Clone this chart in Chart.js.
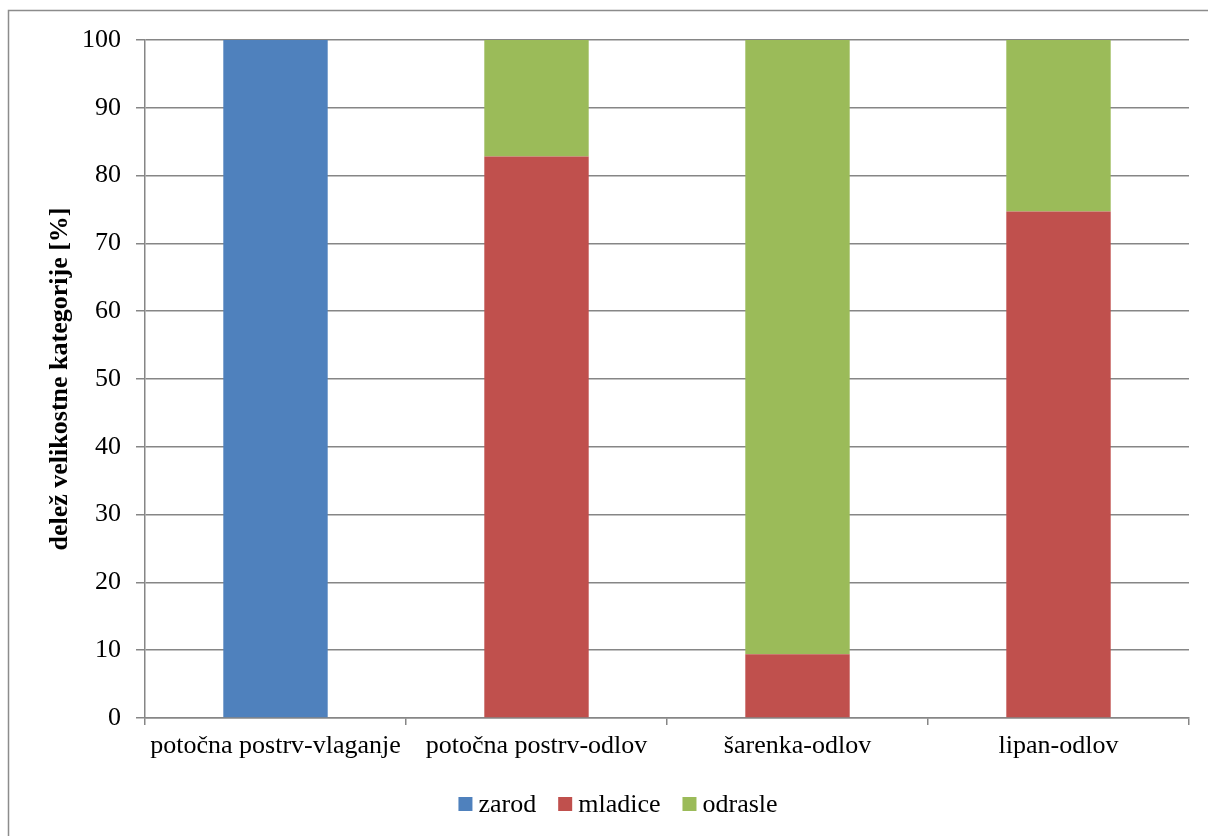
<!DOCTYPE html>
<html>
<head>
<meta charset="utf-8">
<script src="https://cdn.jsdelivr.net/npm/chart.js@4/dist/chart.umd.min.js"></script>
<style>
  html, body { margin: 0; padding: 0; background: #fff; }
  #wrap { width: 1208px; height: 836px; position: relative; }
</style>
</head>
<body>
<div id="wrap"><canvas id="c" width="1208" height="836"></canvas></div>
<script>
const categories = ['potočna postrv-vlaganje', 'potočna postrv-odlov', 'šarenka-odlov', 'lipan-odlov'];
const zarod   = [100, 0, 0, 0];
const mladice = [0, 82.8, 9.4, 74.7];
const odrasle = [0, 17.2, 90.6, 25.3];
const yTicks  = [0, 10, 20, 30, 40, 50, 60, 70, 80, 90, 100];

const serif = "'Liberation Serif', 'Times New Roman', serif";
const gridGrey = '#868686';

// outer frame around the whole chart
const framePlugin = {
  id: 'frame',
  beforeDraw(chart) {
    const ctx = chart.ctx;
    ctx.save();
    ctx.fillStyle = '#fff';
    ctx.fillRect(0, 0, chart.width, chart.height);
    ctx.strokeStyle = '#8c8c8c';
    ctx.lineWidth = 1.5;
    ctx.strokeRect(8.5, 10.5, 1220, 840);
    ctx.restore();
  }
};

// compact legend row under the axis, centred on the frame
const legendRow = {
  id: 'legendRow',
  afterDraw(chart, args, opts) {
    const ctx = chart.ctx;
    const box = 14, gap = 6, itemGap = 22;
    ctx.save();
    ctx.font = `26px ${serif}`;
    ctx.textBaseline = 'middle';
    const items = chart.data.datasets.map(ds => ({
      text: ds.label, color: ds.backgroundColor, w: ctx.measureText(ds.label).width
    }));
    const total = items.reduce((s, it) => s + box + gap + it.w, 0) + itemGap * (items.length - 1);
    let x = opts.centerX - total / 2;
    const y = opts.y;
    items.forEach(it => {
      ctx.fillStyle = it.color;
      ctx.fillRect(x, y - box / 2, box, box);
      ctx.fillStyle = '#000';
      ctx.fillText(it.text, x + box + gap, y + 1);
      x += box + gap + it.w + itemGap;
    });
    ctx.restore();
  }
};

new Chart(document.getElementById('c'), {
  type: 'bar',
  data: {
    labels: categories,
    datasets: [
      { label: 'zarod',   data: zarod,   backgroundColor: '#4F81BD' },
      { label: 'mladice', data: mladice, backgroundColor: '#C0504D' },
      { label: 'odrasle', data: odrasle, backgroundColor: '#9BBB59' }
    ]
  },
  options: {
    responsive: false,
    animation: false,
    devicePixelRatio: 1,
    layout: { padding: { top: 40, right: 19, bottom: 56, left: 0 } },
    datasets: { bar: { barPercentage: 0.4, categoryPercentage: 1.0, borderWidth: 0 } },
    plugins: {
      tooltip: { enabled: false },
      legend: { display: false },
      legendRow: { centerX: 618, y: 804 }
    },
    scales: {
      x: {
        stacked: true,
        afterFit(s) { s.height = 62; },
        grid: {
          offset: true,
          drawOnChartArea: false,
          drawTicks: true,
          tickLength: 7,
          color: gridGrey,
          lineWidth: 1.5
        },
        border: { color: gridGrey, width: 1.5 },
        ticks: { color: '#000', font: { family: serif, size: 26 }, padding: 6, maxRotation: 0 }
      },
      y: {
        stacked: true,
        min: 0,
        max: 100,
        afterFit(s) { s.width = 145; },
        afterBuildTicks(s) { s.ticks = yTicks.map(v => ({ value: v })); },
        grid: { color: gridGrey, lineWidth: 1.5, drawTicks: true, tickLength: 9 },
        border: { color: gridGrey, width: 1.5 },
        ticks: { color: '#000', font: { family: serif, size: 26 }, padding: 15 },
        title: {
          display: true,
          text: 'delež velikostne kategorije [%]',
          color: '#000',
          font: { family: serif, size: 26, weight: 'bold' },
          padding: { top: 45, bottom: 0 }
        }
      }
    }
  },
  plugins: [framePlugin, legendRow]
});
</script>
</body>
</html>
